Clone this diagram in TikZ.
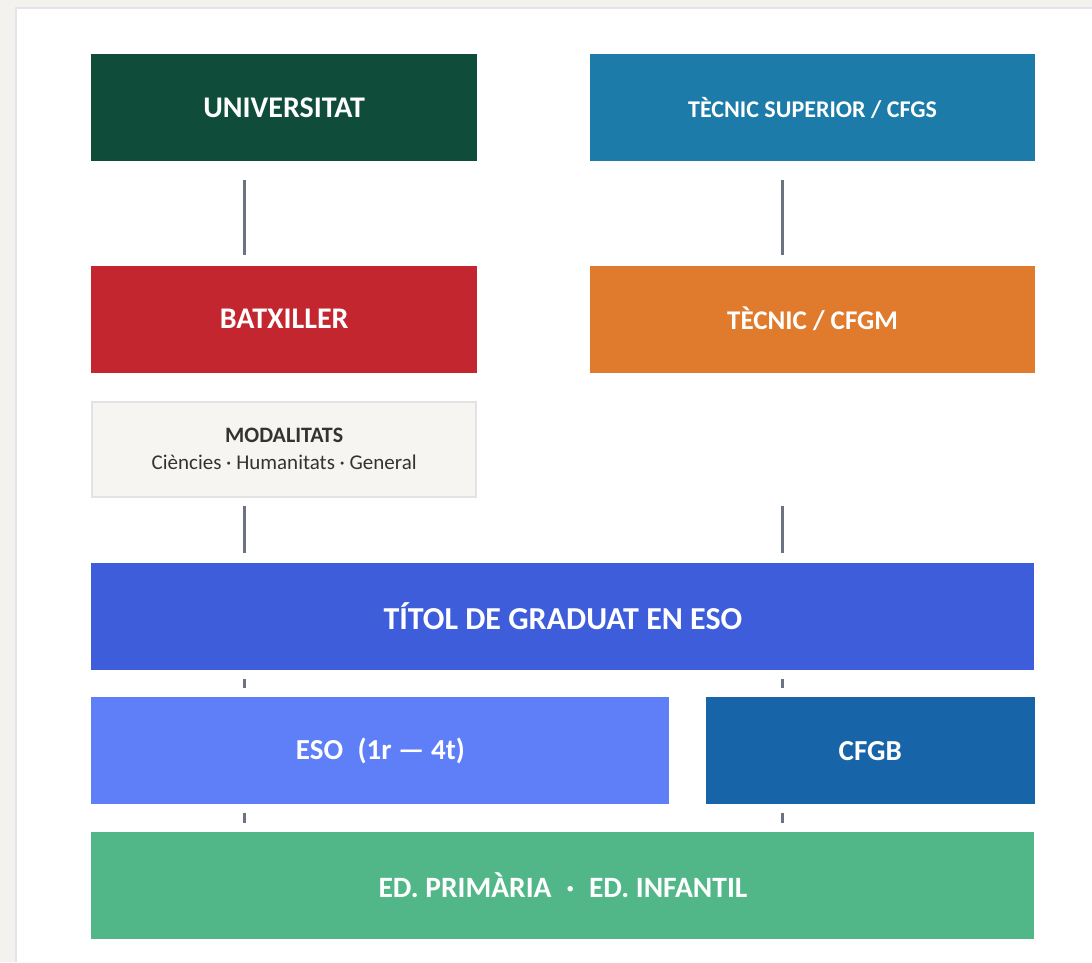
\documentclass[tikz,border=0pt]{standalone}
\usepackage{fontspec}
\setmainfont{Carlito}
\usepackage{xcolor}
\usetikzlibrary{calc}
\usetikzlibrary{positioning}

\definecolor{pagebg}{HTML}{F3F2EE}
\definecolor{panelline}{HTML}{E4E4EA}
\definecolor{univcol}{HTML}{0F4D3A}
\definecolor{tsupcol}{HTML}{1C7BA8}
\definecolor{batxcol}{HTML}{C42630}
\definecolor{cfgmcol}{HTML}{E07B2E}
\definecolor{modalcol}{HTML}{F6F5F1}
\definecolor{modalline}{HTML}{E3E3E3}
\definecolor{titolcol}{HTML}{3D5DDB}
\definecolor{esocol}{HTML}{5E7FF8}
\definecolor{cfgbcol}{HTML}{1864A8}
\definecolor{primcol}{HTML}{52B788}
\definecolor{conncol}{HTML}{6B7280}

\begin{document}
\begin{tikzpicture}[x=1pt,y=1pt,-,auto,node distance=27pt]
 				 \tikzstyle{box}=[rectangle, draw=none, text=white, inner sep=0pt, minimum height=107pt, anchor=north west, font=\bfseries\fontsize{30}{34}\selectfont]
 				 \tikzstyle{conn}=[draw=conncol, line width=3pt]
 				 \useasboundingbox (0,0) rectangle (1092,-962);
 				 % page and panel
 				 \fill[pagebg] (0,0) rectangle (1092,-962);
 				 \fill[white] (15,-7) rectangle (1092,-962);
 				 \draw[panelline, line width=2pt] (16,-962) |- (1092,-8);
 				 \coordinate (lx) at (244,0);
 				 \coordinate (rx) at (782,0);
 					 \node[box, fill=univcol, minimum width=386pt] (univ) at (91,-54) {UNIVERSITAT};
 					 \node[box, fill=tsupcol, minimum width=445pt, right=112.5pt of univ.north east, anchor=north west, font=\bfseries\fontsize{24}{28}\selectfont] (tsup) {TÈCNIC SUPERIOR / CFGS};
 					 \node[box, fill=batxcol, minimum width=386pt, below=104pt of univ] (batx) {BATXILLER};
 					 \node[box, fill=cfgmcol, minimum width=445pt, below=104pt of tsup, font=\bfseries\fontsize{27}{31}\selectfont] (cfgm) {TÈCNIC / CFGM};
 					 \node[box, fill=modalcol, draw=modalline, line width=2pt, minimum width=384pt, minimum height=95pt, below=28pt of batx, text=black!80, align=center, font=\fontsize{21}{27}\selectfont] (modal) {{\fontsize{22}{27}\selectfont\bfseries MODALITATS}\\Ciències · Humanitats · General};
 					 \node[box, fill=titolcol, minimum width=943pt, below=65pt of modal.south west, anchor=north west, font=\bfseries\fontsize{32}{36}\selectfont] (titol) {TÍTOL DE GRADUAT EN ESO};
 					 \node[box, fill=esocol, minimum width=578pt, below=of titol.south west, anchor=north west, font=\bfseries\fontsize{29}{33}\selectfont] (eso) {ESO\enspace(1r — 4t)};
 					 \node[box, fill=cfgbcol, minimum width=329pt, right=36pt of eso, font=\bfseries\fontsize{29}{33}\selectfont] (cfgb) {CFGB};
 					 \node[box, fill=primcol, minimum width=943pt, below=of eso.south west, anchor=north west, font=\bfseries\fontsize{29.5}{33}\selectfont] (prim) {ED. PRIMÀRIA\enspace·\enspace ED. INFANTIL};
				\path[conn]
				(univ.south -| lx) edge[shorten <=19pt, shorten >=10pt] (batx.north -| lx)
				(tsup.south -| rx) edge[shorten <=19pt, shorten >=10pt] (cfgm.north -| rx)
				(modal.south -| lx) edge[shorten <=8pt, shorten >=10pt] (titol.north -| lx)
				(cfgm.south -| rx) edge[shorten <=133pt, shorten >=10pt] (titol.north -| rx)
				(titol.south -| lx) edge[shorten <=9pt, shorten >=9pt] (eso.north -| lx)
				(titol.south -| rx) edge[shorten <=9pt, shorten >=9pt] (cfgb.north -| rx)
				(eso.south -| lx) edge[shorten <=8pt, shorten >=9pt] (prim.north -| lx)
				(cfgb.south -| rx) edge[shorten <=8pt, shorten >=9pt] (prim.north -| rx);
\end{tikzpicture}
\end{document}
